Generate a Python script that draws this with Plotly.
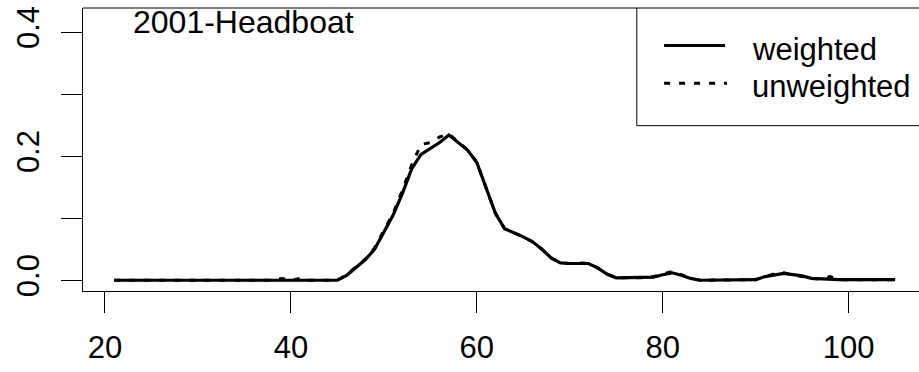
import plotly.graph_objects as go

# ---------------- data ----------------
lengths = list(range(21, 106))

weighted = (
    [0.0] * 24 +                       # 21..44
    [0.0, 0.008, 0.02, 0.033, 0.05,    # 45..49
     0.078, 0.105, 0.14, 0.18, 0.203,  # 50..54
     0.213, 0.222, 0.234, 0.222, 0.21, # 55..59
     0.19, 0.15, 0.108, 0.083, 0.077,  # 60..64
     0.07, 0.062, 0.05, 0.036, 0.028,  # 65..69
     0.027, 0.027, 0.027, 0.02, 0.01,  # 70..74
     0.004, 0.004, 0.004, 0.004, 0.005,# 75..79
     0.009, 0.012, 0.008, 0.003, 0.0,  # 80..84
     0.0, 0.0, 0.0, 0.0, 0.0,          # 85..89
     0.001, 0.006, 0.009, 0.011, 0.009,# 90..94
     0.007, 0.003, 0.002, 0.001, 0.001,# 95..99
     0.001, 0.001, 0.001, 0.001, 0.001, 0.001]  # 100..105
)

unweighted = (
    [0.0] * 18 +                       # 21..38
    [0.003, 0.0, 0.003, 0.0, 0.0, 0.0] +  # 39..44
    [0.0, 0.009, 0.021, 0.034, 0.052,
     0.08, 0.108, 0.145, 0.186, 0.219,
     0.222, 0.231, 0.236, 0.223, 0.21,
     0.19, 0.15, 0.108, 0.083, 0.077,
     0.07, 0.062, 0.05, 0.036, 0.028,
     0.027, 0.028, 0.027, 0.02, 0.01,
     0.004, 0.004, 0.004, 0.004, 0.006,
     0.01, 0.014, 0.009, 0.003, 0.0,
     0.0, 0.0, 0.0, 0.0, 0.0,
     0.001, 0.006, 0.01, 0.012, 0.009,
     0.007, 0.003, 0.002, 0.006, 0.001,
     0.001, 0.001, 0.001, 0.001, 0.001, 0.001]
)

x_ticks = [20, 40, 60, 80, 100]
y_ticks = [0.0, 0.1, 0.2, 0.3, 0.4]
y_tick_text = ["0.0", "", "0.2", "", "0.4"]
title_text = "2001-Headboat"
legend_names = ["weighted", "unweighted"]

# ---------------- layout geometry (pixels) ----------------
W, H = 919, 372
L, T, B = 82.7, 8.3, 290.7
PW, PH = W - L, B - T
FONT = "Liberation Sans, Arial, sans-serif"
FS = 31
DOT = "6px,9px"


def xp(px):
    return (px - L) / PW


def yp(py):
    return (B - py) / PH


fig = go.Figure()
fig.add_trace(go.Scatter(x=lengths, y=unweighted, mode="lines", name=legend_names[1],
                         line=dict(color="black", width=3, dash=DOT),
                         showlegend=False))
fig.add_trace(go.Scatter(x=lengths, y=weighted, mode="lines", name=legend_names[0],
                         line=dict(color="black", width=3.2),
                         showlegend=False))

shapes = [
    # top border of plot box
    dict(type="line", xref="paper", yref="paper", x0=0, x1=1, y0=1, y1=1,
         line=dict(color="black", width=1)),
    # legend box
    dict(type="line", xref="paper", yref="paper", x0=xp(636.7), x1=xp(636.7),
         y0=yp(125.7), y1=1, line=dict(color="black", width=1)),
    dict(type="line", xref="paper", yref="paper", x0=xp(636.7), x1=1.02,
         y0=yp(125.7), y1=yp(125.7), line=dict(color="black", width=1)),
    # legend samples
    dict(type="line", xref="paper", yref="paper", x0=xp(664), x1=xp(725),
         y0=yp(45.7), y1=yp(45.7), line=dict(color="black", width=3)),
    dict(type="line", xref="paper", yref="paper", x0=xp(664), x1=xp(727),
         y0=yp(83.3), y1=yp(83.3), line=dict(color="black", width=3, dash=DOT)),
]

annotations = [
    dict(text=title_text, xref="paper", yref="paper", x=xp(131), y=yp(22),
         xanchor="left", yanchor="middle", showarrow=False,
         font=dict(family=FONT, size=32, color="black")),
    dict(text=legend_names[0], xref="paper", yref="paper", x=xp(750), y=yp(50),
         xanchor="left", yanchor="middle", showarrow=False,
         font=dict(family=FONT, size=FS, color="black")),
    dict(text=legend_names[1], xref="paper", yref="paper", x=xp(750), y=yp(87),
         xanchor="left", yanchor="middle", showarrow=False,
         font=dict(family=FONT, size=FS, color="black")),
]

fig.update_layout(
    width=W, height=H,
    margin=dict(l=L, r=0, t=T, b=H - B, pad=0),
    paper_bgcolor="white", plot_bgcolor="white",
    font=dict(family=FONT, size=FS, color="black"),
    shapes=shapes, annotations=annotations,
    showlegend=False,
)
fig.update_xaxes(range=[17.64, 17.64 + PW / 9.3], tickvals=x_ticks,
                 ticks="outside", ticklen=21, tickwidth=1, tickcolor="black",
                 showline=True, linecolor="black", linewidth=1,
                 showgrid=False, zeroline=False, ticklabelstandoff=8,
                 tickfont=dict(family=FONT, size=FS, color="black"))
fig.update_yaxes(range=[-0.0173, 0.4389], tickvals=y_ticks, ticktext=y_tick_text,
                 ticks="outside", ticklen=21, tickwidth=1, tickcolor="black",
                 showline=True, linecolor="black", linewidth=1,
                 showgrid=False, zeroline=False, tickangle=-90,
                 ticklabelstandoff=10,
                 tickfont=dict(family=FONT, size=FS, color="black"))

fig.write_html("out.html")
